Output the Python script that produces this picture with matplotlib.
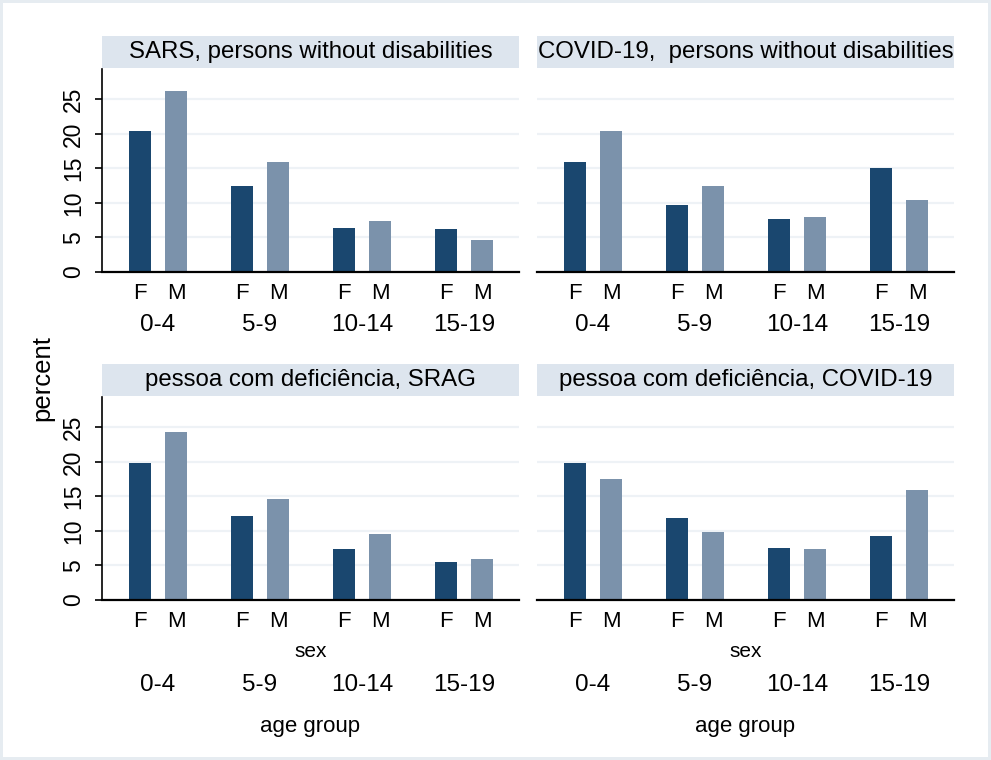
import matplotlib
matplotlib.use('Agg')
import matplotlib.pyplot as plt
from matplotlib.patches import Rectangle
import numpy as np

plt.rcParams['font.family'] = ['Liberation Sans', 'DejaVu Sans']

# data
age_groups = ['0-4', '5-9', '10-14', '15-19']
sexes = ['F', 'M']

titles = ['SARS, persons without disabilities',
          'COVID-19,  persons without disabilities',
          'pessoa com deficiência, SRAG',
          'pessoa com deficiência, COVID-19']

sars_nodis_f = [20.4, 12.4, 6.4, 6.3]
sars_nodis_m = [26.2, 15.9, 7.4, 4.6]
covid_nodis_f = [15.9, 9.7, 7.7, 15.1]
covid_nodis_m = [20.4, 12.4, 7.9, 10.4]
srag_def_f = [19.8, 12.1, 7.4, 5.5]
srag_def_m = [24.4, 14.7, 9.5, 6.0]
covid_def_f = [19.8, 11.9, 7.6, 9.3]
covid_def_m = [17.5, 9.9, 7.4, 16.0]

panels = [(sars_nodis_f, sars_nodis_m),
          (covid_nodis_f, covid_nodis_m),
          (srag_def_f, srag_def_m),
          (covid_def_f, covid_def_m)]

dark = '#1a476f'
light = '#7b92ab'
strip = '#dde5ee'
grid = '#eef2f6'

fig = plt.figure(figsize=(9.91, 7.6), dpi=100)
fig.patch.set_facecolor('white')

W, H = 991.0, 760.0
boxes = [(102, 69), (537, 69), (102, 397), (537, 397)]  # left, top in px
aw, ah = 417, 203

x = np.arange(len(age_groups))
off, bw = 0.176, 0.216

for i, ((left, top), (fv, mv)) in enumerate(zip(boxes, panels)):
    ax = fig.add_axes([left / W, 1 - (top + ah) / H, aw / W, ah / H])
    ax.bar(x - off, fv, width=bw, color=dark, zorder=3)
    ax.bar(x + off, mv, width=bw, color=light, zorder=3)
    ax.set_xlim(-0.549, 3.539)
    ax.set_ylim(0, 29.4)
    ax.set_yticks([0, 5, 10, 15, 20, 25])
    ax.yaxis.grid(True, color=grid, linewidth=1.6, zorder=0)
    ax.set_axisbelow(True)
    ax.set_xticks([])
    for s in ['top', 'right']:
        ax.spines[s].set_visible(False)
    ax.spines['bottom'].set_linewidth(1.6)
    ax.spines['bottom'].set_zorder(4)
    if i % 2 == 0:
        ax.spines['left'].set_linewidth(1.2)
        ax.tick_params(axis='y', length=5, width=1.2, pad=7, labelsize=16.5)
        plt.setp(ax.get_yticklabels(), rotation=90, va='center')
    else:
        ax.spines['left'].set_visible(False)
        ax.tick_params(axis='y', length=0, labelleft=False)

    # strip title
    ax.add_patch(Rectangle((0, 1.004), 1, 32 / ah, transform=ax.transAxes,
                           facecolor=strip, edgecolor='none', clip_on=False))
    ax.text(0.5, 1.004 + 16 / ah, titles[i], transform=ax.transAxes,
            ha='center', va='center', fontsize=17.3)

    # category labels below axis
    for g in range(len(age_groups)):
        for k, sx in enumerate(sexes):
            ax.annotate(sx, xy=(g + (2 * k - 1) * off, 0),
                        xycoords=('data', 'axes fraction'),
                        xytext=(0, -15.8), textcoords='offset points',
                        ha='center', va='center', fontsize=16)
    bottom_row = i >= 2
    age_dy = -61.2 if bottom_row else -38.2
    for g, lab in enumerate(age_groups):
        ax.annotate(lab, xy=(g, 0), xycoords=('data', 'axes fraction'),
                    xytext=(0, age_dy), textcoords='offset points',
                    ha='center', va='center', fontsize=17.5)
    if bottom_row:
        ax.annotate('sex', xy=(0.5, 0), xycoords='axes fraction',
                    xytext=(0, -37.4), textcoords='offset points',
                    ha='center', va='center', fontsize=15)
        ax.annotate('age group', xy=(0.5, 0), xycoords='axes fraction',
                    xytext=(0, -91.4), textcoords='offset points',
                    ha='center', va='center', fontsize=16)

fig.text(42 / W, 1 - 378 / H, 'percent', rotation=90,
         ha='center', va='center', fontsize=18.5)

fig.patches.append(Rectangle((0, 0), 1, 1, transform=fig.transFigure,
                             fill=False, edgecolor='#e6ecf1', linewidth=4.3))

fig.savefig('out.png', dpi=100)
